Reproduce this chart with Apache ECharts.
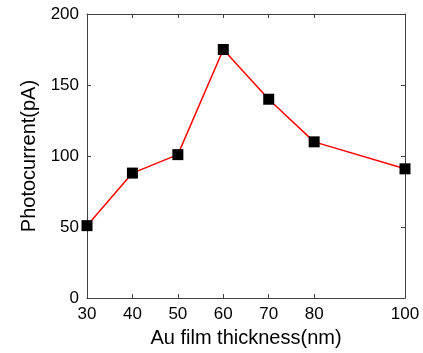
<!DOCTYPE html>
<html><head><meta charset="utf-8">
<script src="https://cdn.jsdelivr.net/npm/echarts@6/dist/echarts.min.js"></script>
<style>html,body{margin:0;padding:0;background:#fff;}#c{width:423px;height:353px;}</style>
</head><body><div id="c"></div>
<script>
const thickness = [30, 40, 50, 60, 70, 80, 100];
const photocurrent = [51, 88, 101, 175, 140, 110, 91];
const xTicks = [30, 40, 50, 60, 70, 80, 100];
const yTicks = [0, 50, 100, 150, 200];

const chart = echarts.init(document.getElementById('c'));
const axisColor = '#404040';
const font = 'Liberation Sans, Arial, sans-serif';
chart.setOption({
  animation: false,
  grid: {left: 87, top: 14, right: 18, bottom: 54},
  xAxis: [{
    type: 'value', min: 30, max: 100, interval: 10,
    name: 'Au film thickness(nm)', nameLocation: 'middle', nameGap: 28,
    nameTextStyle: {fontSize: 20, color: '#000', fontFamily: font},
    axisLine: {onZero: false, lineStyle: {color: axisColor, width: 1}},
    axisTick: {inside: true, length: 4, lineStyle: {color: axisColor}, customValues: xTicks},
    axisLabel: {fontSize: 17, color: '#000', fontFamily: font, margin: 8, customValues: xTicks},
    splitLine: {show: false}
  }, {
    type: 'value', min: 30, max: 100, interval: 10, position: 'top',
    axisLine: {show: true, onZero: false, lineStyle: {color: axisColor, width: 1}},
    axisTick: {show: true, inside: true, length: 4, lineStyle: {color: axisColor}, customValues: xTicks},
    axisLabel: {show: false},
    splitLine: {show: false}
  }],
  yAxis: [{
    type: 'value', min: 0, max: 200, interval: 50,
    name: 'Photocurrent(pA)', nameLocation: 'middle', nameGap: 48,
    nameTextStyle: {fontSize: 20, color: '#000', fontFamily: font},
    axisLine: {show: true, onZero: false, lineStyle: {color: axisColor, width: 1}},
    axisTick: {show: true, inside: true, length: 4, lineStyle: {color: axisColor}},
    axisLabel: {fontSize: 17, color: '#000', fontFamily: font, margin: 8},
    splitLine: {show: false}
  }, {
    type: 'value', min: 0, max: 200, interval: 50, position: 'right',
    axisLine: {show: true, onZero: false, lineStyle: {color: axisColor, width: 1}},
    axisTick: {show: true, inside: true, length: 4, lineStyle: {color: axisColor}},
    axisLabel: {show: false},
    splitLine: {show: false}
  }],
  series: [{
    type: 'line',
    xAxisIndex: 0, yAxisIndex: 0,
    data: thickness.map((t, i) => [t, photocurrent[i]]),
    symbol: 'rect', symbolSize: 11,
    lineStyle: {color: '#ff0000', width: 1.5},
    itemStyle: {color: '#000'},
    z: 3
  }]
});
</script></body></html>
